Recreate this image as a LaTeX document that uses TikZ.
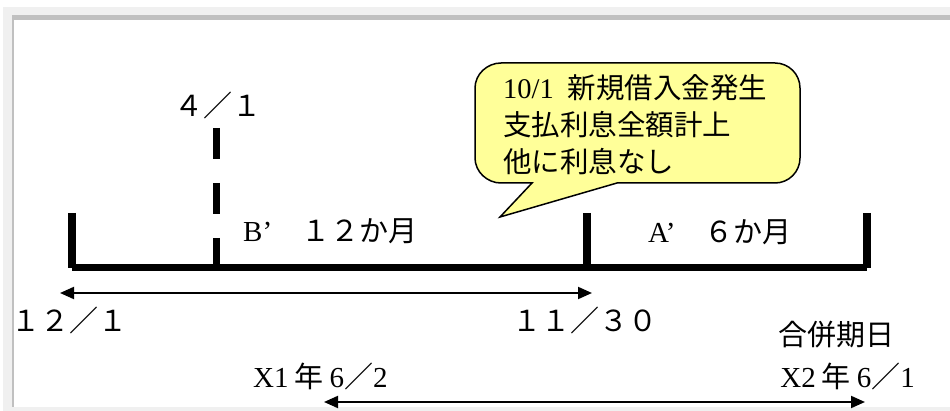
\documentclass[tikz,border=0pt]{standalone}
\usepackage{fontspec}
\setmainfont{Liberation Serif}
\newfontfamily\jp{Noto Sans CJK JP}
\usetikzlibrary{arrows.meta}
\definecolor{pagegray}{HTML}{F0F0F0}
\definecolor{framegray}{HTML}{C0C0C0}
\definecolor{callout}{HTML}{FFFF99}
\begin{document}
\begin{tikzpicture}[x=1pt,y=-1pt,
  lbl/.style={inner sep=0pt, font=\fontsize{29}{35}\selectfont},
  btxt/.style={inner sep=0pt, anchor=base west, font=\fontsize{28.5}{37}\selectfont},
  barline/.style={line width=7pt},
  tickline/.style={line width=8pt},
  dashline/.style={line width=7pt, dash pattern=on 31pt off 24pt},
  spanarrow/.style={line width=2pt, {Triangle[length=14pt,width=12pt]}-{Triangle[length=14pt,width=12pt]}},
  balloon/.style={fill=callout, draw=black, line width=1.5pt, line join=miter}]
\useasboundingbox (0,0) rectangle (950,411);
% page frame
\fill[white] (0,0) rectangle (950,411);
\fill[pagegray] (3,7) rectangle (950,411);
\fill[framegray] (12,15) rectangle (950,407);
\fill[white] (14,20) rectangle (950,407);

% callout balloon
\draw[balloon] (617,183) -- (775,183) .. controls (788.8,183) and (800,171.8) .. (800,158)
  -- (800,88) .. controls (800,74.2) and (788.8,63) .. (775,63)
  -- (501,63) .. controls (487.2,63) and (475,74.2) .. (475,88)
  -- (475,158) .. controls (475,171.8) and (487.2,183) .. (501,183)
  -- (532,183) -- (500,217) -- cycle;
\node[btxt] (bt1) at (503,99) {10/1\hspace{14pt}{\jp 新規借入金発生}};
\node[btxt] (bt2) at (503,136) {\jp 支払利息全額計上};
\node[btxt] (bt3) at (503,173) {\jp 他に利息なし};

% timeline coordinates
\coordinate (L) at (72,268);
\coordinate (M) at (587,268);
\coordinate (R) at (867,268);
\coordinate (Lt) at (72,213);
\coordinate (Mt) at (587,213);
\coordinate (Rt) at (867,213);
\coordinate (D) at (216.5,268);
\coordinate (Dt) at (216.5,128);

\draw[dashline] (Dt) -- (D);
\draw[tickline] (Lt) -- (L);
\draw[tickline] (Mt) -- (M);
\draw[tickline] (Rt) -- (R);
\draw[barline] (L) -- (R);

% labels
\node[lbl, anchor=base] (d41) at (218,117) {\jp ４／１};
\node[lbl, anchor=base west] (bl) at (243,242) {B’{\jp 　１２か月}};
\node[lbl, anchor=base west] (al) at (648,243) {A’{\jp 　６か月}};
\node[lbl, anchor=base] (d121) at (69,332) {\jp １２／１};
\node[lbl, anchor=base] (d1130) at (585,332) {\jp １１／３０};
\node[lbl, anchor=base] (merge) at (836,345) {\jp 合併期日};
\node[lbl, anchor=base west] (x1) at (253,388) {X1\hspace{6pt}{\jp 年}\hspace{6pt}6{\jp ／}2};
\node[lbl, anchor=base east] (x2) at (915,388) {X2\hspace{6pt}{\jp 年}\hspace{6pt}6{\jp ／}1};

% span arrows
\coordinate (a1l) at (60,293);
\coordinate (a1r) at (592,293);
\coordinate (a2l) at (324,402);
\coordinate (a2r) at (865,402);
\draw[spanarrow] (a1l) -- (a1r);
\draw[spanarrow] (a2l) -- (a2r);
\end{tikzpicture}
\end{document}
